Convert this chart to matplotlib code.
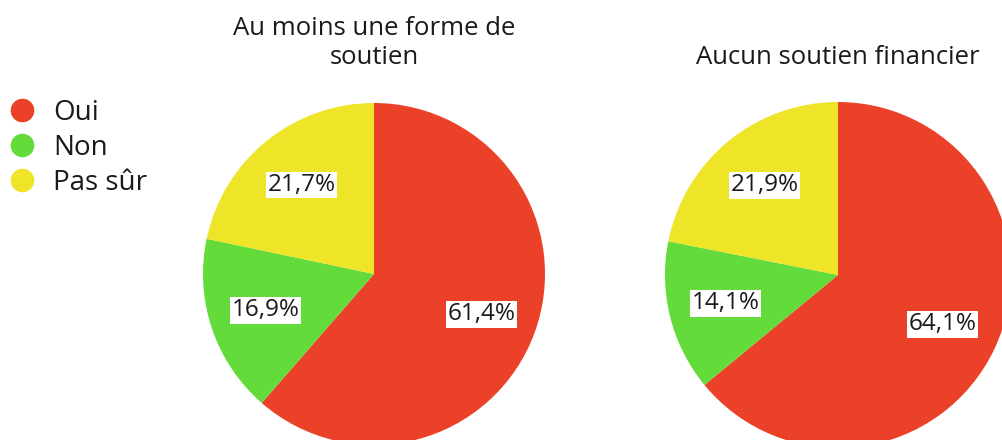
import matplotlib.pyplot as plt
from matplotlib.lines import Line2D

plt.rcParams['font.family'] = ['Open Sans', 'DejaVu Sans']

# Survey answers per group (percent)
categories = ['Oui', 'Non', 'Pas sûr']
titles = ['Au moins une forme de\nsoutien', 'Aucun soutien financier']
values_soutien = [61.4, 16.9, 21.7]
values_aucun = [64.1, 14.1, 21.9]
colors = ['#EA4128', '#63DB3A', '#EEE428']

W, H = 1003, 440
fig = plt.figure(figsize=(W / 100, H / 100), dpi=100)

# pie centres / radius in pixels, title centre y
pies = [
    (374, 274, 171, values_soutien, titles[0], 43),
    (838, 275, 173, values_aucun, titles[1], 57),
]

text_color = '#1a1a1a'

for cx, cy, r, vals, title, ty in pies:
    ax = fig.add_axes([(cx - r) / W, (H - cy - r) / H, 2 * r / W, 2 * r / H])
    labels = [f'{v:.1f}%'.replace('.', ',') for v in vals]
    wedges, texts = ax.pie(
        vals, colors=colors, startangle=90, counterclock=False,
        labels=labels, labeldistance=0.67, wedgeprops=dict(linewidth=0),
        textprops=dict(fontsize=17.5, color=text_color))
    for t in texts:
        t.set_horizontalalignment('center')
        t.set_verticalalignment('center')
        t.set_bbox(dict(facecolor='white', edgecolor='none', pad=1))
    for w in wedges:
        w.set_clip_on(False)
    ax.set_xlim(-1, 1)
    ax.set_ylim(-1, 1)
    ax.set_aspect('equal')
    fig.text(cx / W, 1 - ty / H, title,
             ha='center', va='center', fontsize=18.5, color=text_color,
             linespacing=1.17)

handles = [Line2D([], [], marker='o', linestyle='none', markersize=17,
                  markerfacecolor=c, markeredgecolor='none') for c in colors]
fig.legend(handles, categories, loc='center left',
           bbox_to_anchor=(5.5 / W, 1 - 148 / H), frameon=False,
           fontsize=20, handlelength=1.2, handletextpad=0.52,
           labelspacing=0.25, borderpad=0, borderaxespad=0,
           labelcolor=text_color)

fig.savefig('out.png', dpi=100)
